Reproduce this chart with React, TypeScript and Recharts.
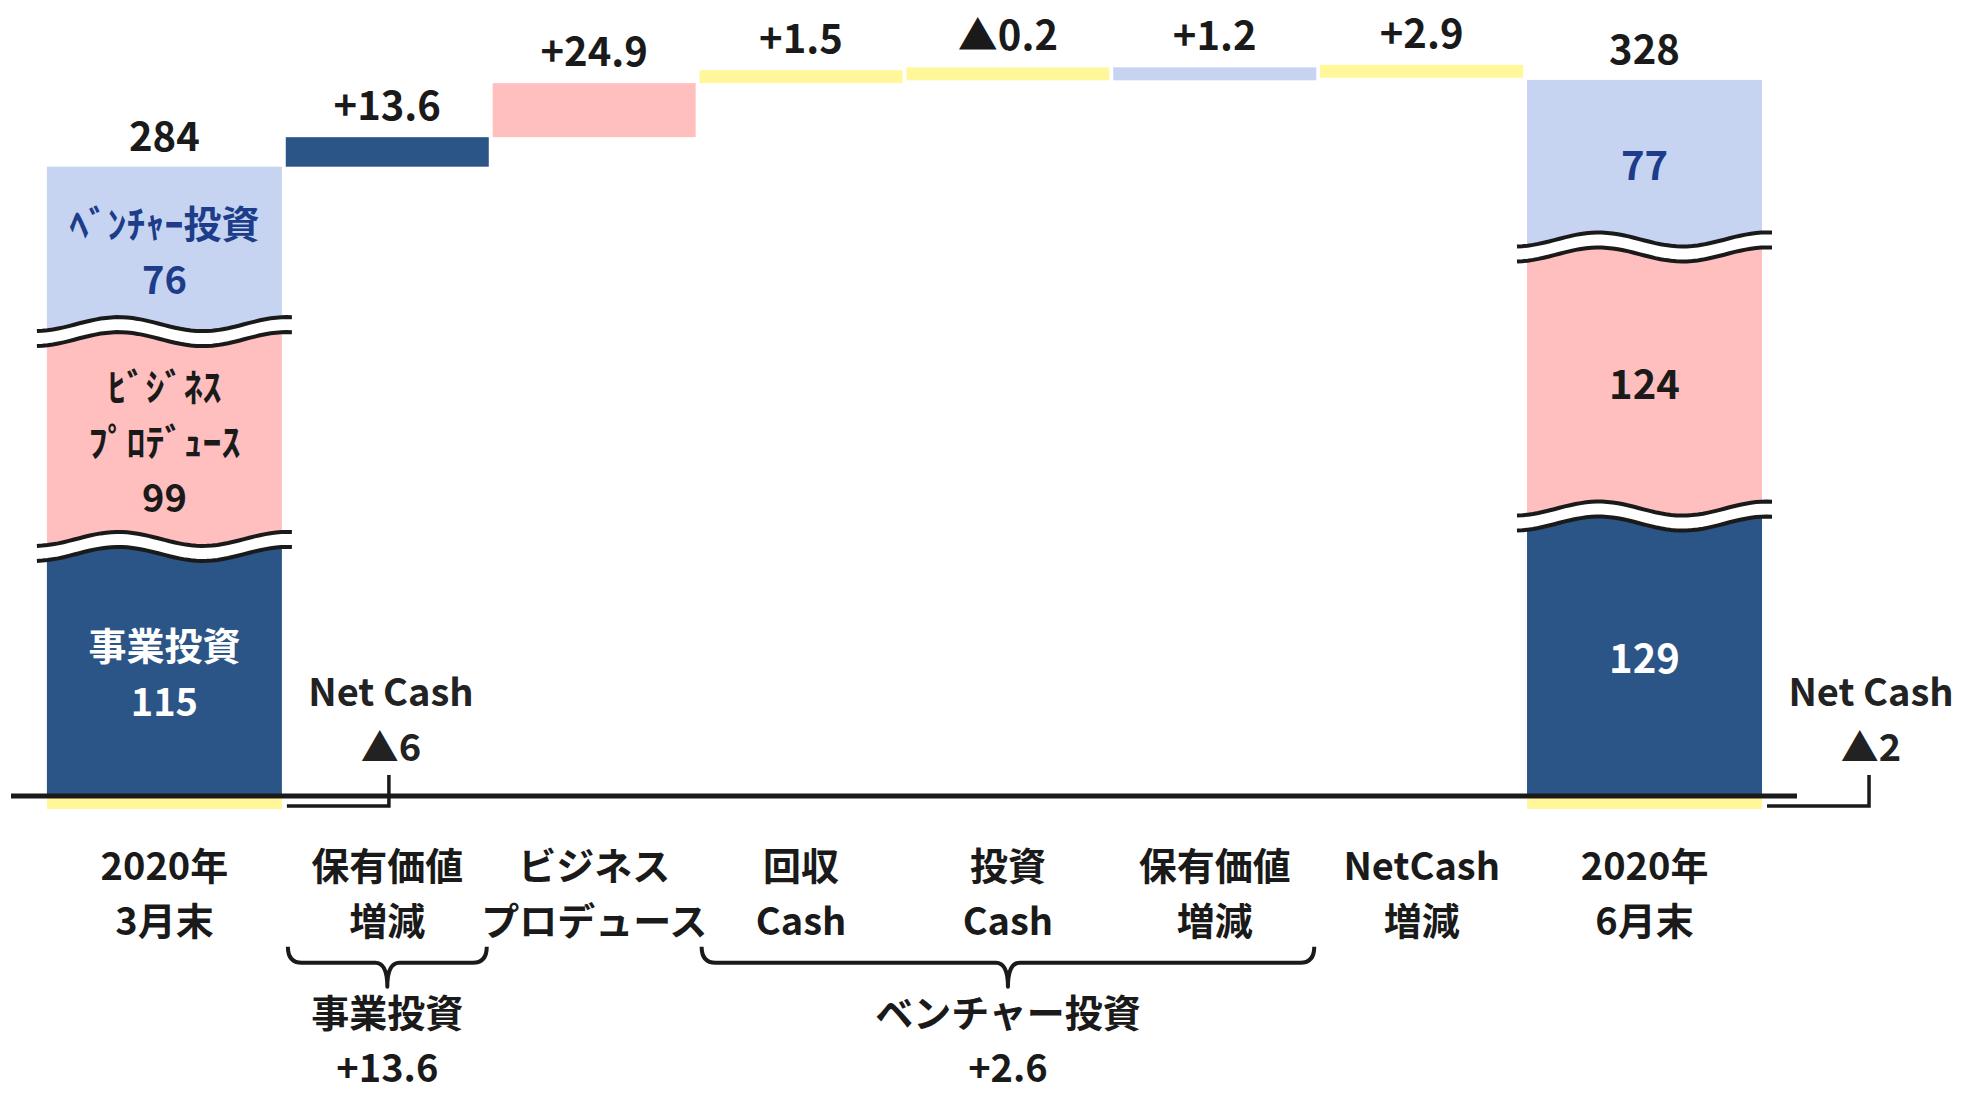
import React from 'react'
import { BarChart, Bar, XAxis, YAxis, ReferenceLine } from 'recharts'

// カテゴリ（2行ラベル）
const categoryLines = [
  ['2020年', '3月末'],
  ['保有価値', '増減'],
  ['ビジネス', 'プロデュース'],
  ['回収', 'Cash'],
  ['投資', 'Cash'],
  ['保有価値', '増減'],
  ['NetCash', '増減'],
  ['2020年', '6月末'],
]

// 期首・期末の内訳
const segmentKeys = ['netCash', 'business', 'produce', 'venture']
const segmentNames = [[], ['事業投資'], ['ﾋﾞｼﾞﾈｽ', 'ﾌﾟﾛﾃﾞｭｰｽ'], ['ﾍﾞﾝﾁｬｰ投資']]
const openingValues = [-6, 115, 99, 76]
const closingValues = [-2, 129, 124, 77]
const totals = [284, 328]

// 増減
const stepValues = [13.6, 24.9, 1.5, -0.2, 1.2, 2.9]
const stepSegments = ['business', 'produce', 'netCash', 'netCash', 'venture', 'netCash']

// 下部のグループ括り
const groupNames = ['事業投資', 'ベンチャー投資']
const groupValues = [13.6, 2.6]
const groupSpans = [[1, 1], [3, 5]]

const segmentColors: Record<string, string> = {
  netCash: '#fff799',
  business: '#2c5587',
  produce: '#ffbfbf',
  venture: '#c6d4f2',
}
const labelColors: Record<string, string> = {
  business: '#ffffff',
  produce: '#1a1a1a',
  venture: '#1d3d8b',
}

const W = 1969
const H = 1094
const MARGIN = { top: 58.2, right: 237, bottom: 0, left: 77 }
const AXIS_H = 263.3
const FONT = "'Noto Sans CJK JP', 'Noto Sans', sans-serif"
const INK = '#1a1a1a'
const EDGE_EXTRA = 32
const MIN_BAR = 13
const MULTI_SIZE = 38
const LINE_GAP = 55.5
const BAND = (W - MARGIN.left - MARGIN.right) / categoryLines.length

const blank = () => ({ netCash: 0, business: 0, produce: 0, venture: 0, base: 0, step: 0 })

const totalRow = (lines: string[], values: number[], total: number) => {
  const row: any = { name: lines.join(''), kind: 'total', total, ...blank() }
  segmentKeys.forEach((k, i) => (row[k] = values[i]))
  return row
}

const rows: any[] = []
rows.push(totalRow(categoryLines[0], openingValues, totals[0]))
let running = openingValues.filter((v) => v > 0).reduce((a, b) => a + b, 0)
stepValues.forEach((v, i) => {
  const next = running + v
  rows.push({
    name: categoryLines[i + 1].join(''),
    kind: 'step',
    ...blank(),
    base: Math.min(running, next),
    step: Math.abs(v),
    change: v,
    segment: stepSegments[i],
  })
  running = next
})
rows.push(totalRow(categoryLines[categoryLines.length - 1], closingValues, totals[1]))

const fmtStep = (v: number) => (v >= 0 ? `+${v.toFixed(1)}` : `▲${Math.abs(v).toFixed(1)}`)

const textProps = {
  fontFamily: FONT,
  fontWeight: 700,
  fontSize: 40,
  textAnchor: 'middle' as const,
}

// 複数行テキスト（中央揃え）
function Lines({ x, y, lines, fill, gap = LINE_GAP, baseline = 'central' }: any) {
  const size = lines.length > 1 ? MULTI_SIZE : 40
  return (
    <text {...textProps} fontSize={size} x={x} y={y} dominantBaseline={baseline} fill={fill}>
      {lines.map((ln: string, i: number) => (
        <tspan key={i} x={x} dy={i === 0 ? 0 : gap}>
          {ln}
        </tspan>
      ))}
    </text>
  )
}

function wave(x0: number, x1: number, yc: number) {
  const pts: number[][] = []
  for (let i = 0; i <= 48; i++) {
    const t = i / 48
    pts.push([x0 + (x1 - x0) * t, yc - 7 * Math.cos((2 * Math.PI * (t - 0.32)) / 0.66)])
  }
  return pts
}

function BreakMark({ x0, x1, y }: { x0: number; x1: number; y: number }) {
  const a = wave(x0, x1, y - 7.5)
  const b = wave(x0, x1, y + 7.5)
  const toStr = (p: number[][]) => p.map((q) => `${q[0].toFixed(1)},${q[1].toFixed(1)}`).join(' ')
  return (
    <g>
      <polygon points={toStr(a.concat([...b].reverse()))} fill="#ffffff" />
      <polyline points={toStr(a)} fill="none" stroke={INK} strokeWidth={4} />
      <polyline points={toStr(b)} fill="none" stroke={INK} strokeWidth={4} />
    </g>
  )
}

const boxOf = (props: any, value: number) => {
  const { x, y, width, height, index } = props
  let top = height < 0 ? y + height : y
  let h = Math.abs(height)
  let left = x
  let w = width
  if (props.payload.kind === 'total') {
    if (index === 0) {
      left -= EDGE_EXTRA
      w += EDGE_EXTRA
    }
    if (index === rows.length - 1) w += EDGE_EXTRA
  }
  if (h < MIN_BAR) {
    if (value < 0) h = MIN_BAR
    else {
      top = top + h - MIN_BAR
      h = MIN_BAR
    }
  }
  return { left, top, w, h }
}

const totalSegment = (key: string) => (props: any) => {
  const { payload, index } = props
  const value = payload[key]
  if (!value || payload.kind !== 'total') return <g />
  const { left, top, w, h } = boxOf(props, value)
  const cx = left + w / 2
  const parts: any[] = [<rect key="r" x={left} y={top} width={w} height={h} fill={segmentColors[key]} />]

  if (key === 'produce' || key === 'venture') {
    parts.push(<BreakMark key="b" x0={left - 10} x1={left + w + 10} y={top + h} />)
  }

  if (key === 'netCash') {
    const hx = left + w + 5
    const vx = left + w + 107
    const hy = top + h - 3
    parts.push(
      <polyline key="c" points={`${hx},${hy} ${vx},${hy} ${vx},${top - 21}`} fill="none" stroke={INK} strokeWidth={3.5} />,
      <Lines key="t" x={vx + 2} y={top - 107} lines={['Net Cash', `▲${Math.abs(value)}`]} fill="#222" />,
    )
  } else {
    const names = index === 0 ? segmentNames[segmentKeys.indexOf(key)] : []
    const lines = [...names, String(value)]
    const mid = top + h / 2
    parts.push(
      <Lines key="l" x={cx} y={mid - ((lines.length - 1) / 2) * LINE_GAP} lines={lines} fill={labelColors[key]} />,
    )
  }

  if (key === 'venture') {
    parts.push(
      <text key="tot" {...textProps} x={cx} y={top - 16} fill={INK}>
        {payload.total}
      </text>,
    )
  }
  return <g>{parts}</g>
}

const stepShape = (props: any) => {
  const { payload } = props
  if (payload.kind !== 'step' || !payload.step) return <g />
  const { left, top, w, h } = boxOf(props, payload.step)
  return (
    <g>
      <rect x={left} y={top} width={w} height={h} fill={segmentColors[payload.segment]} />
      <text {...textProps} x={left + w / 2} y={top - 17} fill={INK}>
        {fmtStep(payload.change)}
      </text>
    </g>
  )
}

function CategoryTick(props: any) {
  const { x, y, payload } = props
  const i = props.index ?? payload.index
  const lines = categoryLines[i] || []
  // 両端の列は太いので中心をずらす
  let lx = x
  if (i === 0) lx -= EDGE_EXTRA / 2
  if (i === categoryLines.length - 1) lx += EDGE_EXTRA / 2
  const g = groupSpans.findIndex((s) => s[0] === i)
  let group = null
  if (g >= 0) {
    const [from, to] = groupSpans[g]
    const x0 = x - BAND / 2 + 4
    const x1 = x + (to - from) * BAND + BAND / 2 - 4
    const xm = (x0 + x1) / 2
    const yt = y + 116
    const yh = y + 132
    const yp = y + 156
    const d = `M${x0},${yt} Q${x0},${yh} ${x0 + 14},${yh} L${xm - 12},${yh} Q${xm},${yh} ${xm},${yp} Q${xm},${yh} ${xm + 12},${yh} L${x1 - 14},${yh} Q${x1},${yh} ${x1},${yt}`
    group = (
      <g>
        <path d={d} fill="none" stroke={INK} strokeWidth={4} strokeLinejoin="round" />
        <Lines
          x={xm}
          y={y + 196}
          lines={[groupNames[g], `+${groupValues[g].toFixed(1)}`]}
          fill={INK}
          baseline="alphabetic"
        />
      </g>
    )
  }
  return (
    <g>
      <Lines x={lx} y={y + 32} lines={lines} fill={INK} />
      {group}
    </g>
  )
}

export default function App() {
  return (
    <div style={{ position: 'absolute', left: 0, top: 0, width: W, height: H, background: '#fff' }}>
      <BarChart width={W} height={H} data={rows} margin={MARGIN} stackOffset="sign" barCategoryGap={1.9}>
        <XAxis
          dataKey="name"
          height={AXIS_H}
          axisLine={false}
          tickLine={false}
          tickSize={0}
          tickMargin={0}
          interval={0}
          tick={<CategoryTick />}
        />
        <YAxis hide domain={[-16, 340]} />
        {segmentKeys.map((k) => (
          <Bar key={k} dataKey={k} stackId="w" isAnimationActive={false} shape={totalSegment(k)} />
        ))}
        <Bar dataKey="base" stackId="w" fill="none" isAnimationActive={false} shape={() => <g />} />
        <Bar dataKey="step" stackId="w" isAnimationActive={false} shape={stepShape} />
        <ReferenceLine
          y={0}
          stroke={INK}
          strokeWidth={5}
          shape={(p: any) => <line x1={p.x1 - 66} y1={p.y1} x2={p.x2 + 65} y2={p.y2} stroke={INK} strokeWidth={5} />}
        />
      </BarChart>
    </div>
  )
}
